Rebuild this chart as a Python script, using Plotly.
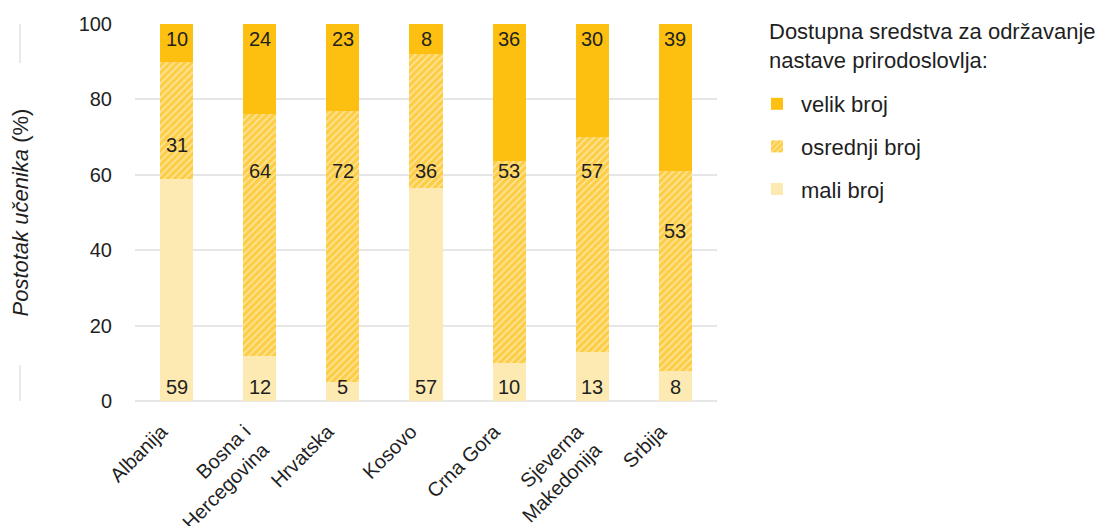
import plotly.graph_objects as go

categories = ["Albanija", "Bosna i<br>Hercegovina", "Hrvatska", "Kosovo",
              "Crna Gora", "Sjeverna<br>Makedonija", "Srbija"]
mali = [59, 12, 5, 57, 10, 13, 8]
osrednji = [31, 64, 72, 36, 53, 57, 53]
velik = [10, 24, 23, 8, 36, 30, 39]
# vertical position (in %) where the middle labels sit in the original
mid_label_y = [68, 61, 61, 61, 61, 61, 45]

# bars are drawn as shares of each country's total (rounded labels may not sum to 100)
totals = [a + b + c for a, b, c in zip(mali, osrednji, velik)]
mali_h = [v * 100 / t for v, t in zip(mali, totals)]
osr_h = [v * 100 / t for v, t in zip(osrednji, totals)]
vel_h = [v * 100 / t for v, t in zip(velik, totals)]

C_VELIK = "#FDC010"
C_OSR = "#FDCD45"
C_MALI = "#FDE9B2"
FONT = "Liberation Sans, Arial, sans-serif"
TXT = "#1f1f1f"

fig = go.Figure()
fig.add_trace(go.Bar(x=categories, y=mali_h, name="mali broj",
                     marker=dict(color=C_MALI, line=dict(width=0)),
                     legendgroup="c", legendrank=3, width=0.4))
fig.add_trace(go.Bar(x=categories, y=osr_h, name="osrednji broj",
                     marker=dict(color=C_OSR, line=dict(width=0),
                                 pattern=dict(shape="/", bgcolor=C_OSR, fgcolor="white",
                                              size=5, solidity=0.3, fillmode="overlay")),
                     legendgroup="b", legendrank=2, width=0.4))
fig.add_trace(go.Bar(x=categories, y=vel_h, name="velik broj",
                     marker=dict(color=C_VELIK, line=dict(width=0)),
                     legendgroup="a", legendrank=1, width=0.4))

LF = dict(size=20, color=TXT, family=FONT)
ann = []
for i, c in enumerate(categories):
    ann.append(dict(x=c, y=0, xref="x", yref="y", text=str(mali[i]), showarrow=False,
                    yanchor="bottom", yshift=1, font=LF))
    ann.append(dict(x=c, y=mid_label_y[i], xref="x", yref="y", text=str(osrednji[i]),
                    showarrow=False, yanchor="middle", font=LF))
    ann.append(dict(x=c, y=100, xref="x", yref="y", text=str(velik[i]), showarrow=False,
                    yanchor="top", yshift=-2, font=LF))

# y-axis title
ann.append(dict(x=-115 / 582, y=0.5, xref="paper", yref="paper", showarrow=False,
                text="<i>Postotak učenika</i> (%)", textangle=-90,
                font=dict(size=22, color=TXT, family=FONT), xanchor="center", yanchor="middle"))

# legend title
ann.append(dict(x=(767 - 135) / 582, y=1 + 7 / 377, xref="paper", yref="paper", showarrow=False,
                text="Dostupna sredstva za održavanje<br>nastave prirodoslovlja:", align="left",
                font=dict(size=22, color=TXT, family=FONT), xanchor="left", yanchor="top"))

shapes = [
    dict(type="line", xref="paper", yref="paper", x0=-115 / 582, x1=-115 / 582,
         y0=1.0, y1=1 - 39 / 377, line=dict(color="#e3e3e3", width=1.5)),
    dict(type="line", xref="paper", yref="paper", x0=-115 / 582, x1=-115 / 582,
         y0=0, y1=36 / 377, line=dict(color="#e3e3e3", width=1.5)),
]

fig.update_layout(
    barmode="stack",
    width=1106, height=526,
    margin=dict(l=135, r=389, t=24, b=125, autoexpand=False),
    plot_bgcolor="white", paper_bgcolor="white",
    font=dict(family=FONT, size=20, color=TXT),
    annotations=ann, shapes=shapes,
    legend=dict(
        x=(765 - 135) / 582, xanchor="left", y=1 - (83 - 24) / 377, yanchor="top",
        traceorder="grouped", tracegroupgap=11,
        indentation=-12, itemwidth=38,
        font=dict(size=22, color=TXT),
        itemclick=False,
    ),
    xaxis=dict(tickangle=-45, showgrid=False, showline=False, ticks="",
               ticklabelshift=-15, ticklabelstandoff=14,
               tickfont=dict(size=20, color=TXT)),
    yaxis=dict(range=[0, 100], tickvals=[0, 20, 40, 60, 80, 100], showgrid=True,
               gridcolor="#e6e6e6", gridwidth=1.5, zeroline=True, zerolinecolor="#e6e6e6",
               zerolinewidth=1.5, ticks="", ticklabelstandoff=22,
               tickfont=dict(size=20, color=TXT)),
    showlegend=True,
)

fig.write_html("out.html")
